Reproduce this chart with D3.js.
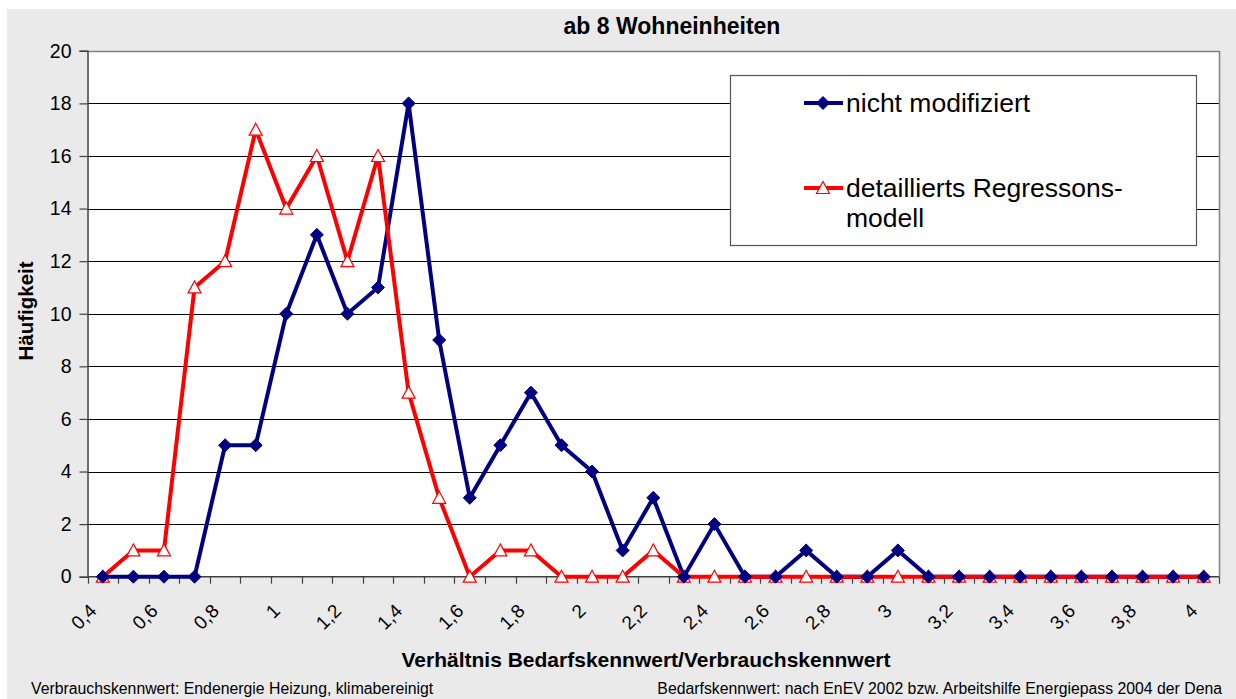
<!DOCTYPE html>
<html>
<head>
<meta charset="utf-8">
<script src="https://cdn.jsdelivr.net/npm/d3@7"></script>
<style>
  html, body { margin: 0; padding: 0; background: #fff; }
  svg { display: block; }
  text { font-family: Arial, "Liberation Sans", sans-serif; }
</style>
</head>
<body>
<svg id="chart" width="1236" height="699"></svg>
<script>
const categories = ["0,4","0,5","0,6","0,7","0,8","0,9","1","1,1","1,2","1,3","1,4","1,5","1,6","1,7","1,8","1,9","2","2,1","2,2","2,3","2,4","2,5","2,6","2,7","2,8","2,9","3","3,1","3,2","3,3","3,4","3,5","3,6","3,7","3,8","3,9","4"];
const tickLabels = ["0,4","0,6","0,8","1","1,2","1,4","1,6","1,8","2","2,2","2,4","2,6","2,8","3","3,2","3,4","3,6","3,8","4"];
const nichtModifiziert = [0,0,0,0,5,5,10,13,10,11,18,9,3,5,7,5,4,1,3,0,2,0,0,1,0,0,1,0,0,0,0,0,0,0,0,0,0];
const regressionsmodell = [0,1,1,11,12,17,14,16,12,16,7,3,0,1,1,0,0,0,1,0,0,0,0,0,0,0,0,0,0,0,0,0,0,0,0,0,0];
const yTicks = [0,2,4,6,8,10,12,14,16,18,20];
const seriesNames = ["nicht modifiziert", "detaillierts Regressons-", "modell"];

const svg = d3.select("#chart");
const W = 1236, H = 699;
const plot = {left: 87.5, right: 1219, top: 50.8, bottom: 576.7};

// background
svg.append("rect").attr("x", 7).attr("y", 9).attr("width", W - 7).attr("height", H - 9).attr("fill", "#EAEAEA");
svg.append("rect").attr("x", plot.left).attr("y", plot.top)
  .attr("width", plot.right - plot.left).attr("height", plot.bottom - plot.top).attr("fill", "#fff");

const x = d3.scaleBand().domain(categories).range([plot.left, plot.right]).padding(0);
const y = d3.scaleLinear().domain([0, 20]).range([plot.bottom, plot.top]);
const cx = c => x(c) + x.bandwidth() / 2;

// grid lines
svg.append("g").selectAll("line").data(yTicks.filter(t => t > 0 && t < 20)).join("line")
  .attr("x1", plot.left).attr("x2", plot.right)
  .attr("y1", d => Math.round(y(d)) + 0.5).attr("y2", d => Math.round(y(d)) + 0.5)
  .attr("stroke", "#000").attr("stroke-width", 1);

// plot border top/right
svg.append("path")
  .attr("d", `M${plot.left},${Math.round(plot.top)+0.5} H${Math.round(plot.right)+0.5} V${plot.bottom}`)
  .attr("fill", "none").attr("stroke", "#808080").attr("stroke-width", 1.5);

// y axis
const yAxis = d3.axisLeft(y).tickValues(yTicks).tickSize(8).tickPadding(8).tickFormat(d => String(d));
const gy = svg.append("g").attr("transform", `translate(${plot.left},0)`).call(yAxis);
gy.select(".domain").attr("stroke", "#404040").attr("stroke-width", 1.5);
gy.selectAll(".tick line").attr("stroke", "#404040").attr("stroke-width", 1.2);
gy.selectAll(".tick text").attr("font-size", "19.5px").attr("fill", "#000").attr("font-family", "Arial, 'Liberation Sans', sans-serif");

// x axis: ticks at category boundaries
const boundaries = categories.map(c => x(c)).concat([x(categories[categories.length - 1]) + x.bandwidth()]);
const gx = svg.append("g");
gx.append("line").attr("x1", plot.left).attr("x2", plot.right)
  .attr("y1", plot.bottom).attr("y2", plot.bottom).attr("stroke", "#404040").attr("stroke-width", 1.5);
gx.selectAll("line.tk").data(boundaries).join("line").attr("class", "tk")
  .attr("x1", d => Math.round(d) + 0.5).attr("x2", d => Math.round(d) + 0.5)
  .attr("y1", plot.bottom).attr("y2", plot.bottom + 7)
  .attr("stroke", "#404040").attr("stroke-width", 1.2);
gx.selectAll("text").data(tickLabels).join("text")
  .attr("transform", d => `translate(${cx(d) - 5},${612}) rotate(-45)`)
  .attr("text-anchor", "end")
  .attr("font-size", "19px").attr("fill", "#000")
  .text(d => d);

// lines
const line = d3.line().x((d, i) => cx(categories[i])).y(d => y(d));
svg.append("path").datum(nichtModifiziert).attr("d", line)
  .attr("fill", "none").attr("stroke", "#000080").attr("stroke-width", 4).attr("stroke-linejoin", "miter");
svg.append("path").datum(regressionsmodell).attr("d", line)
  .attr("fill", "none").attr("stroke", "#FF0000").attr("stroke-width", 4).attr("stroke-linejoin", "miter");

const triPath = "M0,-6.5 L6.5,5.5 L-6.5,5.5 Z";
const diaPath = "M0,-6.5 L6.5,0 L0,6.5 L-6.5,0 Z";

svg.append("g").selectAll("path").data(regressionsmodell).join("path")
  .attr("d", triPath)
  .attr("transform", (d, i) => `translate(${cx(categories[i])},${y(d)})`)
  .attr("fill", "#fff").attr("stroke", "#FF0000").attr("stroke-width", 1.2);
svg.append("g").selectAll("path").data(nichtModifiziert).join("path")
  .attr("d", diaPath)
  .attr("transform", (d, i) => `translate(${cx(categories[i])},${y(d)})`)
  .attr("fill", "#000080").attr("stroke", "#000080").attr("stroke-width", 1);

// title & axis titles
svg.append("text").attr("x", 672).attr("y", 34).attr("text-anchor", "middle")
  .attr("font-size", "23px").attr("font-weight", "bold").text("ab 8 Wohneinheiten");
svg.append("text").attr("transform", "translate(33,311) rotate(-90)").attr("text-anchor", "middle")
  .attr("font-size", "20.5px").attr("font-weight", "bold").text("Häufigkeit");
svg.append("text").attr("x", 646).attr("y", 667).attr("text-anchor", "middle")
  .attr("font-size", "21px").attr("font-weight", "bold").text("Verhältnis Bedarfskennwert/Verbrauchskennwert");

// footers
svg.append("text").attr("x", 31).attr("y", 694).attr("font-size", "15.8px")
  .text("Verbrauchskennwert: Endenergie Heizung, klimabereinigt");
svg.append("text").attr("x", 1222).attr("y", 694).attr("text-anchor", "end").attr("font-size", "15.8px")
  .text("Bedarfskennwert: nach EnEV 2002 bzw. Arbeitshilfe Energiepass 2004 der Dena");

// legend
const lg = svg.append("g");
lg.append("rect").attr("x", 730.5).attr("y", 75.5).attr("width", 466).attr("height", 170)
  .attr("fill", "#fff").attr("stroke", "#555").attr("stroke-width", 1.2);
lg.append("line").attr("x1", 804).attr("x2", 843).attr("y1", 103).attr("y2", 103)
  .attr("stroke", "#000080").attr("stroke-width", 4);
lg.append("path").attr("d", diaPath).attr("transform", "translate(823,103)")
  .attr("fill", "#000080").attr("stroke", "#000080");
lg.append("line").attr("x1", 804).attr("x2", 843).attr("y1", 188).attr("y2", 188)
  .attr("stroke", "#FF0000").attr("stroke-width", 4);
lg.append("path").attr("d", triPath).attr("transform", "translate(823,188)")
  .attr("fill", "#fff").attr("stroke", "#FF0000").attr("stroke-width", 1.2);
lg.append("text").attr("x", 846).attr("y", 112).attr("font-size", "26.5px").text(seriesNames[0]);
lg.append("text").attr("x", 846).attr("y", 197).attr("font-size", "26.5px").text(seriesNames[1]);
lg.append("text").attr("x", 846).attr("y", 227).attr("font-size", "26.5px").text(seriesNames[2]);
</script>
</body>
</html>
